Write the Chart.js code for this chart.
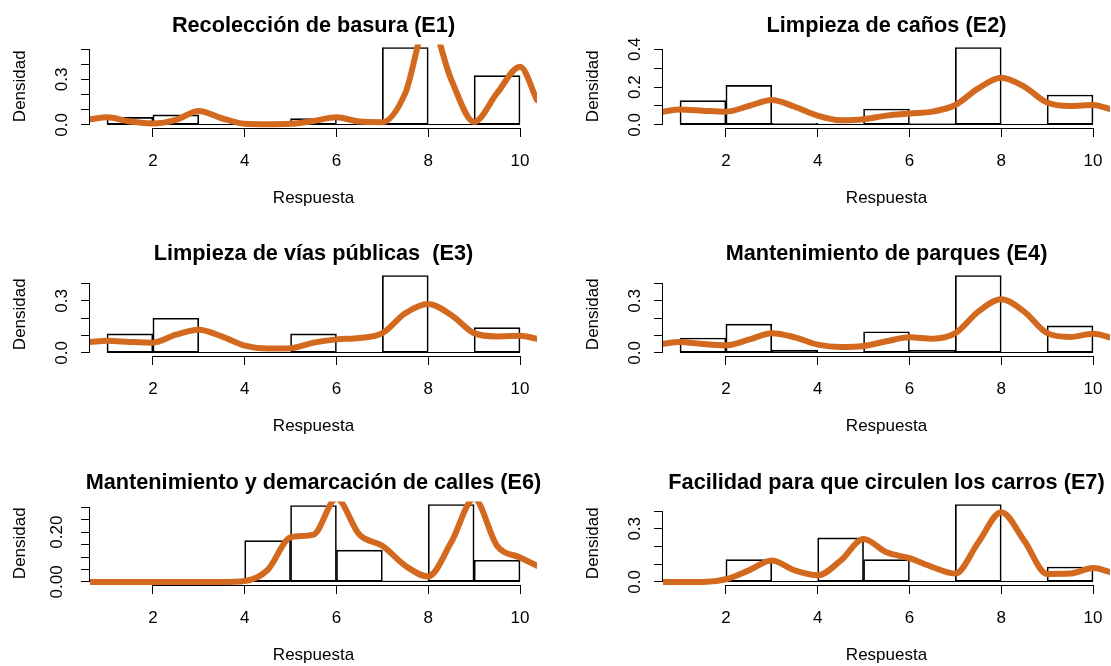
<!DOCTYPE html>
<html>
<head>
<meta charset="utf-8">
<script src="https://cdn.jsdelivr.net/npm/chart.js@4/dist/chart.umd.min.js"></script>
<style>
  html, body { margin: 0; padding: 0; background: #fff; overflow: hidden; }
  #wrap { position: relative; width: 1111px; height: 666px; overflow: hidden; background: #fff; }
  #wrap canvas { position: absolute; }
</style>
</head>
<body>
<div id="wrap"></div>
<script>
// histogram breaks and bin midpoints
const breaks = [1, 2, 3, 4, 5, 6, 7, 8, 9, 10];
const binMids = [1.5, 2.5, 3.5, 4.5, 5.5, 6.5, 7.5, 8.5, 9.5];
const xTicks = [2, 4, 6, 8, 10];
const xTickLabels = ['2', '4', '6', '8', '10'];
const xRange = [0.63, 10.37];

// points
const densX = [0.63, 1, 1.5, 2, 2.5, 3, 3.5, 4, 4.5, 5, 5.5, 6, 6.5, 7, 7.5, 8, 8.5, 9, 9.5, 10, 10.37];

const titles = [
  'Recolección de basura (E1)',
  'Limpieza de caños (E2)',
  'Limpieza de vías públicas  (E3)',
  'Mantenimiento de parques (E4)',
  'Mantenimiento y demarcación de calles (E6)',
  'Facilidad para que circulen los carros (E7)'
];

const histE1 = [0.05, 0.066, 0, 0, 0.042, 0, 0.511, 0, 0.325];
const histE2 = [0.128, 0.209, 0.008, 0.004, 0.084, 0.007, 0.409, 0, 0.158];
const histE3 = [0.11, 0.2, 0, 0, 0.11, 0, 0.446, 0, 0.146];
const histE4 = [0.086, 0.166, 0.017, 0, 0.122, 0.017, 0.446, 0, 0.156];
const histE6 = [0, 0, 0, 0.166, 0.307, 0.128, 0.004, 0.311, 0.087];
const histE7 = [0, 0.126, 0, 0.249, 0.126, 0, 0.437, 0, 0.084];

const densE1 = [0.037, 0.05, 0.022, 0.009, 0.033, 0.092, 0.044, 0.007, 0.004, 0.007, 0.026, 0.05, 0.022, 0.018, 0.21, 0.70, 0.30, 0.02, 0.21, 0.384, 0.164];
const densE2 = [0.07, 0.081, 0.075, 0.07, 0.1, 0.132, 0.096, 0.049, 0.025, 0.03, 0.049, 0.06, 0.07, 0.105, 0.193, 0.249, 0.202, 0.118, 0.1, 0.105, 0.084];
const densE3 = [0.063, 0.07, 0.063, 0.059, 0.105, 0.133, 0.095, 0.042, 0.025, 0.027, 0.059, 0.078, 0.086, 0.114, 0.229, 0.282, 0.219, 0.114, 0.095, 0.099, 0.082];
const densE4 = [0.053, 0.063, 0.051, 0.044, 0.076, 0.114, 0.09, 0.048, 0.034, 0.04, 0.067, 0.09, 0.082, 0.114, 0.238, 0.309, 0.238, 0.114, 0.092, 0.11, 0.09];
const densE6 = [0, 0, 0, 0, 0, 0, 0, 0.004, 0.048, 0.179, 0.19, 0.335, 0.19, 0.145, 0.065, 0.022, 0.159, 0.335, 0.145, 0.098, 0.065];
const densE7 = [0, 0, 0, 0.015, 0.065, 0.121, 0.065, 0.037, 0.12, 0.242, 0.167, 0.134, 0.084, 0.047, 0.223, 0.394, 0.233, 0.045, 0.047, 0.078, 0.056];

// y ticks and the labels R kept
const yTicks1 = [0, 0.1, 0.2, 0.3, 0.4, 0.5];
const yLabels1 = ['0.0', '', '', '0.3', '', ''];
const yTicks4 = [0, 0.1, 0.2, 0.3, 0.4];
const yLabels4a = ['0.0', '', '0.2', '', '0.4'];
const yLabels4b = ['0.0', '', '', '0.3', ''];
const yTicks6 = [0, 0.05, 0.1, 0.15, 0.2, 0.25, 0.3];
const yLabels6 = ['0.00', '', '', '', '0.20', '', ''];

const panels = [
  { hist: histE1, dens: densE1, yTicks: yTicks1, yLabels: yLabels1 },
  { hist: histE2, dens: densE2, yTicks: yTicks4, yLabels: yLabels4a },
  { hist: histE3, dens: densE3, yTicks: yTicks4, yLabels: yLabels4b },
  { hist: histE4, dens: densE4, yTicks: yTicks4, yLabels: yLabels4b },
  { hist: histE6, dens: densE6, yTicks: yTicks6, yLabels: yLabels6 },
  { hist: histE7, dens: densE7, yTicks: yTicks4, yLabels: yLabels4b }
];

Chart.defaults.font.family = "'Liberation Sans', Arial, sans-serif";
Chart.defaults.color = '#000';

// R style axes: the line only runs from the first to the last tick,
// plus the histogram baseline across all breaks
const rAxes = {
  id: 'rAxes',
  beforeDatasetsDraw(chart) {
    const { ctx, chartArea, scales: { x, y } } = chart;
    const left = Math.round(chartArea.left) - 0.5;
    const bottom = Math.round(chartArea.bottom) + 0.5;
    const zero = Math.round(y.getPixelForValue(0)) - 0.5;
    ctx.save();
    ctx.strokeStyle = '#000';
    ctx.lineWidth = 1;
    ctx.beginPath();
    ctx.moveTo(left, y.getPixelForValue(y.ticks[0].value));
    ctx.lineTo(left, y.getPixelForValue(y.ticks[y.ticks.length - 1].value));
    ctx.moveTo(x.getPixelForValue(x.ticks[0].value), bottom);
    ctx.lineTo(x.getPixelForValue(x.ticks[x.ticks.length - 1].value), bottom);
    ctx.moveTo(x.getPixelForValue(breaks[0]), zero);
    ctx.lineTo(x.getPixelForValue(breaks[breaks.length - 1]), zero);
    ctx.stroke();
    ctx.restore();
  }
};

const wrap = document.getElementById('wrap');
const rowTops = [0, 228, 457];

panels.forEach((p, i) => {
  const canvas = document.createElement('canvas');
  canvas.width = 627;
  canvas.height = 228;
  canvas.style.left = (i % 2 ? 573 : 0) + 'px';
  canvas.style.top = rowTops[Math.floor(i / 2)] + 'px';
  wrap.appendChild(canvas);

  const ymax = Math.max(...p.hist);
  const axisGrid = {
    display: true,
    drawOnChartArea: false,
    drawTicks: true,
    tickLength: 9,
    color: '#000',
    lineWidth: 1,
    offset: false
  };

  new Chart(canvas.getContext('2d'), {
    type: 'bar',
    data: {
      datasets: [
        {
          type: 'line',
          data: densX.map((x, k) => ({ x, y: p.dens[k] })),
          borderColor: '#D2691E',
          borderWidth: 6,
          borderCapStyle: 'round',
          borderJoinStyle: 'round',
          pointRadius: 0,
          cubicInterpolationMode: 'monotone',
          fill: false,
          clip: 0,
          order: 1
        },
        {
          type: 'bar',
          data: binMids.map((x, k) => ({ x, y: p.hist[k] })),
          backgroundColor: 'rgba(0,0,0,0)',
          borderColor: '#000',
          borderWidth: 1,
          borderSkipped: false,
          barPercentage: 1,
          categoryPercentage: 1,
          order: 2
        }
      ]
    },
    options: {
      responsive: false,
      animation: false,
      layout: { padding: { left: 0, right: 0, top: 0, bottom: 18 } },
      plugins: {
        legend: { display: false },
        tooltip: { enabled: false },
        title: {
          display: true,
          text: titles[i],
          color: '#000',
          font: { size: 21.7, weight: 'bold' },
          padding: { top: 13, bottom: 5.4 }
        }
      },
      scales: {
        x: {
          type: 'linear',
          min: xRange[0],
          max: xRange[1],
          offset: false,
          grid: axisGrid,
          border: { display: false },
          afterBuildTicks: ax => { ax.ticks = xTicks.map(v => ({ value: v })); },
          afterFit: s => { s.height = 82; },
          ticks: {
            autoSkip: false,
            maxRotation: 0,
            padding: 14,
            font: { size: 17 },
            callback: (v, k) => xTickLabels[k]
          },
          title: {
            display: true,
            text: 'Respuesta',
            font: { size: 17 },
            padding: { top: 0, bottom: 1 }
          }
        },
        y: {
          type: 'linear',
          min: -0.04 * ymax,
          max: 1.04 * ymax,
          grid: axisGrid,
          border: { display: false },
          afterBuildTicks: ax => { ax.ticks = p.yTicks.map(v => ({ value: v })); },
          afterFit: s => { s.width = 90; },
          ticks: {
            autoSkip: false,
            minRotation: 90,
            maxRotation: 90,
            crossAlign: 'center',
            padding: 7,
            font: { size: 17 },
            callback: (v, k) => p.yLabels[k]
          },
          title: {
            display: true,
            text: 'Densidad',
            font: { size: 17 },
            padding: { top: 10, bottom: 0 }
          }
        },
        // empty right margin so the title centres over the plot region
        yPad: {
          position: 'right',
          display: true,
          grid: { display: false },
          border: { display: false },
          ticks: { display: false },
          afterFit: s => { s.width = 90; }
        }
      }
    },
    plugins: [rAxes]
  });
});
</script>
</body>
</html>
